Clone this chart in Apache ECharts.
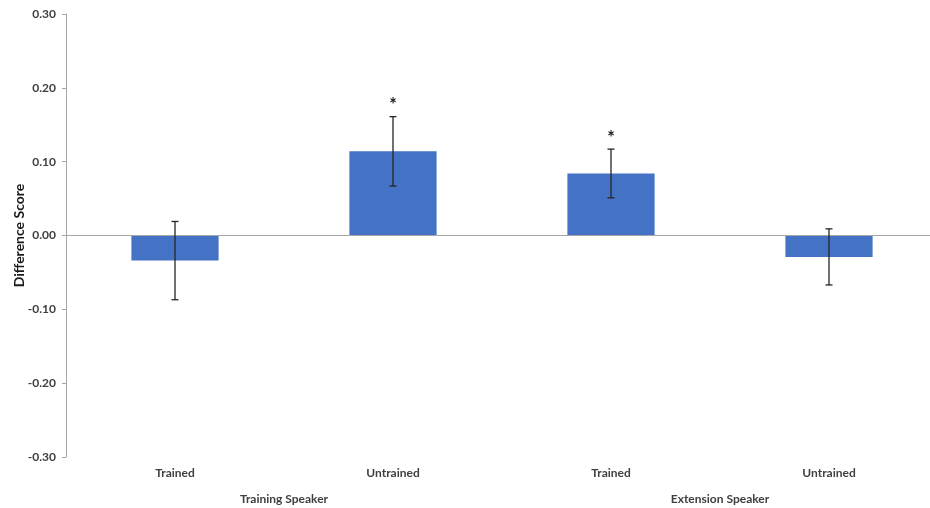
<!DOCTYPE html>
<html>
<head>
<meta charset="utf-8">
<script src="https://cdn.jsdelivr.net/npm/echarts@6/dist/echarts.min.js"></script>
<style>
  html, body { margin: 0; padding: 0; background: #ffffff; }
  #chart { width: 930px; height: 508px; }
</style>
</head>
<body>
<div id="chart"></div>
<script>
// Condition labels and their speaker groups
const conditions = ['Trained', 'Untrained', 'Trained', 'Untrained'];
const speakerGroups = ['Training Speaker', 'Extension Speaker'];

// Mean difference scores and error half-widths
const meanScores = [-0.034, 0.114, 0.084, -0.029];
const errorSizes = [0.053, 0.047, 0.033, 0.038];
const significant = [false, true, true, false];

// Y axis range and step
const yMin = -0.3, yMax = 0.3, yStep = 0.1;

const FONT = 'Lato';
const chart = echarts.init(document.getElementById('chart'));

const errorData = meanScores.map((v, i) => [i, v - errorSizes[i], v + errorSizes[i], significant[i] ? 1 : 0]);

chart.setOption({
  backgroundColor: '#ffffff',
  animation: false,
  grid: { left: 66, top: 14, width: 872, height: 443, outerBoundsMode: 'none', containLabel: false },
  xAxis: [
    {
      type: 'category',
      data: conditions,
      position: 'bottom',
      axisLine: { show: false },
      axisTick: { show: false },
      axisLabel: { margin: 10, color: '#404040', fontFamily: FONT, fontSize: 12, fontWeight: 'bold' }
    },
    {
      type: 'category',
      data: speakerGroups,
      position: 'bottom',
      offset: 26,
      axisLine: { show: false },
      axisTick: { show: false },
      axisLabel: { margin: 10, color: '#404040', fontFamily: FONT, fontSize: 12, fontWeight: 'bold' }
    }
  ],
  yAxis: {
    type: 'value',
    min: yMin, max: yMax, interval: yStep,
    name: 'Difference Score',
    nameLocation: 'middle',
    nameGap: 40,
    nameMoveOverlap: false,
    nameTextStyle: { color: '#1a1a1a', fontFamily: FONT, fontSize: 14, fontWeight: 'bold' },
    axisLine: { show: true, lineStyle: { color: '#a6a6a6', width: 1 } },
    axisTick: { show: true, length: 4, lineStyle: { color: '#a6a6a6' } },
    splitLine: { show: false },
    axisLabel: {
      margin: 10,
      color: '#404040', fontFamily: FONT, fontSize: 12, fontWeight: 'bold',
      formatter: v => v.toFixed(2)
    }
  },
  series: [
    {
      type: 'bar',
      xAxisIndex: 0,
      data: meanScores,
      barWidth: '40%',
      itemStyle: { color: '#4472C4' },
      markLine: {
        silent: true,
        symbol: 'none',
        label: { show: false },
        lineStyle: { color: '#a6a6a6', width: 1, type: 'solid' },
        data: [{ yAxis: 0 }]
      },
      z: 2
    },
    {
      type: 'custom',
      xAxisIndex: 0,
      data: errorData,
      z: 5,
      renderItem: (params, api) => {
        const i = api.value(0);
        const lo = api.coord([i, api.value(1)]);
        const hi = api.coord([i, api.value(2)]);
        const cap = 3.5;
        const style = { stroke: '#262626', lineWidth: 1.3 };
        const children = [
          { type: 'line', shape: { x1: hi[0], y1: hi[1], x2: lo[0], y2: lo[1] }, style },
          { type: 'line', shape: { x1: hi[0] - cap, y1: hi[1], x2: hi[0] + cap, y2: hi[1] }, style },
          { type: 'line', shape: { x1: lo[0] - cap, y1: lo[1], x2: lo[0] + cap, y2: lo[1] }, style }
        ];
        if (api.value(3)) {
          children.push({
            type: 'text',
            style: {
              x: hi[0], y: hi[1] - 2,
              text: '*',
              textAlign: 'center', textVerticalAlign: 'bottom',
              fill: '#1a1a1a', fontFamily: FONT, fontSize: 18, fontWeight: 'bold'
            }
          });
        }
        return { type: 'group', children };
      }
    }
  ]
});
</script>
</body>
</html>
